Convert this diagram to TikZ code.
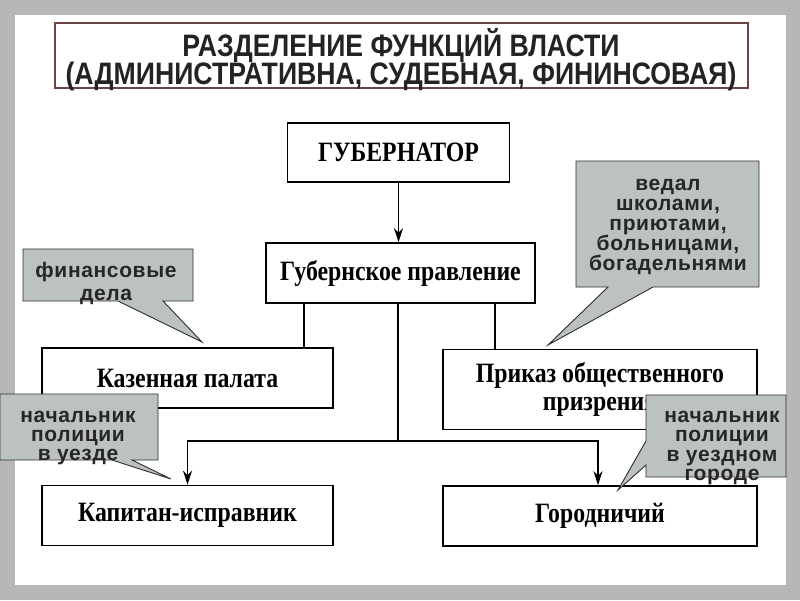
\documentclass[tikz,border=0pt]{standalone}
\usepackage{fontspec}
\setmainfont{Liberation Serif}
\newfontfamily\titlefont[FakeStretch=0.86]{Liberation Sans}
\newfontfamily\boxfont[FakeStretch=0.85]{Liberation Serif}
\newfontfamily\callfont[LetterSpace=3]{Liberation Sans}
\usetikzlibrary{arrows.meta}
\definecolor{bggray}{HTML}{B7B7B7}
\definecolor{callfill}{HTML}{BCC2BE}
\definecolor{callline}{HTML}{2E2E2E}
\definecolor{calltext}{HTML}{262626}
\definecolor{titleline}{HTML}{6B4444}
\definecolor{titletext}{HTML}{232323}
\tikzset{
  orgbox/.style={draw=black, line width=1.6pt, fill=white, inner sep=0pt, align=center,
    font=\boxfont\bfseries\fontsize{28}{28}\selectfont},
  conn/.style={line width=1.3pt, draw=black},
  arr/.style={conn, -{Stealth[length=14pt,width=9pt]}},
  callshape/.style={fill=callfill, draw=callline, line width=0.9pt, line join=miter},
  calltxt/.style={inner sep=0pt, align=center, text=calltext,
    font=\callfont\bfseries\fontsize{21}{20}\selectfont},
  titletxt/.style={anchor=base, text=titletext, inner sep=0pt,
    font=\titlefont\bfseries\fontsize{31}{27}\selectfont}
}
\begin{document}
\begin{tikzpicture}[x=1pt,y=-1pt]
\useasboundingbox (0,0) rectangle (800,600);
\fill[bggray] (0,0) rectangle (800,600);
\fill[white] (15,15) rectangle (786,585);
% title
\node[draw=titleline, line width=1.2pt, minimum width=693pt, minimum height=65pt, inner sep=0pt] (title) at (401.5,55.5) {};
\node[titletxt] (t1) at (401,56) {РАЗДЕЛЕНИЕ ФУНКЦИЙ ВЛАСТИ};
\node[titletxt] (t2) at (401,84.5) {(АДМИНИСТРАТИВНА, СУДЕБНАЯ, ФИНИНСОВАЯ)};
% boxes
\node[orgbox, minimum width=222pt, minimum height=59pt] (gub) at (398.5,152.5) {ГУБЕРНАТОР};
\node[orgbox, minimum width=269pt, minimum height=60pt] (gpr) at (400.5,273) {Губернское правление};
\node[orgbox, minimum width=291pt, minimum height=60pt] (kaz) at (187.5,378) {Казенная палата};
\node[orgbox, minimum width=314pt, minimum height=80pt] (prz) at (600,389.5) {Приказ общественного\\призрения};
\node[orgbox, minimum width=291pt, minimum height=60pt] (kap) at (187.5,515.5) {Капитан-исправник};
\node[orgbox, minimum width=314pt, minimum height=60pt] (gor) at (600,516) {Городничий};
% connectors
\draw[arr] (gub.south) -- (gub.south |- gpr.north);
\draw[conn] ([xshift=-96.5pt]gpr.south) -- ([xshift=-96.5pt]gpr.south |- kaz.north);
\draw[conn] ([xshift=94.5pt]gpr.south) -- ([xshift=94.5pt]gpr.south |- prz.north);
\coordinate (j) at (398,441);
\draw[conn] (gpr.south -| j) -- (j);
\draw[arr] (j) -| (kap.north);
\draw[arr] (j) -| ([xshift=-2pt]gor.north);
% callouts
\draw[callshape] (23,249) -- (193,249) -- (193,301) -- (163,301) -- (202,342) -- (118,301) -- (23,301) -- cycle;
\node[calltxt, font=\callfont\bfseries\fontsize{21}{23}\selectfont] (c1) at (106,283) {финансовые\\дела};
\draw[callshape] (576,161) -- (759,161) -- (759,287) -- (653,287) -- (548,345) -- (608,287) -- (576,287) -- cycle;
\node[calltxt] (c2) at (668,227) {ведал\\школами,\\приютами,\\больницами,\\богадельнями};
\draw[callshape] (0,394) -- (158,394) -- (158,460) -- (132,460) -- (171,479) -- (112,460) -- (0,460) -- cycle;
\node[calltxt, font=\callfont\bfseries\fontsize{21}{19}\selectfont] (c3) at (78,438) {начальник\\полиции\\в уезде};
\draw[callshape] (646,395) -- (786,395) -- (786,477) -- (646,477) -- (646,465) -- (618,490) -- (646,441) -- cycle;
\node[calltxt, font=\callfont\bfseries\fontsize{21}{19.5}\selectfont] (c4) at (722,448) {начальник\\полиции\\в уездном\\городе};
\end{tikzpicture}
\end{document}
